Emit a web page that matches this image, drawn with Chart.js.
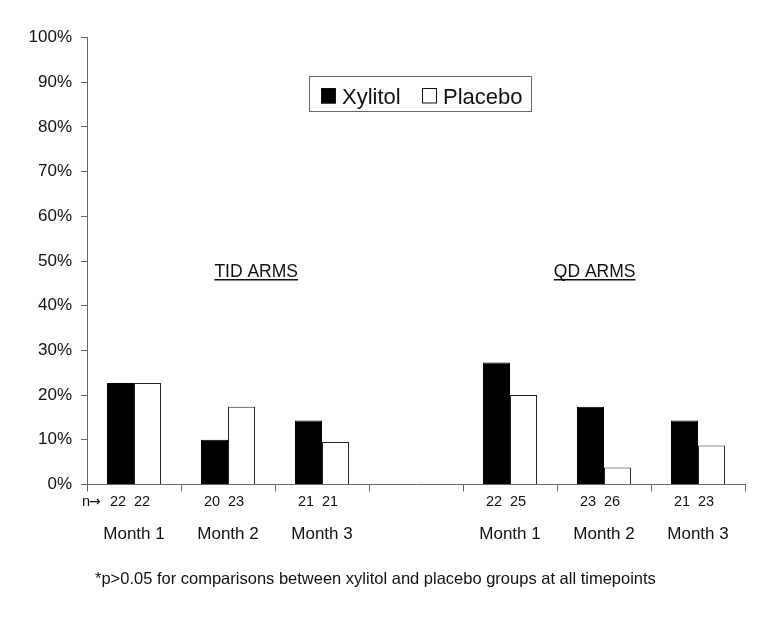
<!DOCTYPE html>
<html>
<head>
<meta charset="utf-8">
<script src="https://cdn.jsdelivr.net/npm/chart.js@4/dist/chart.umd.min.js"></script>
<style>
  html, body { margin: 0; padding: 0; background: #fff; }
  #wrap { width: 778px; height: 623px; }
</style>
</head>
<body>
<div id="wrap"><canvas id="grafico" width="778" height="623"></canvas></div>
<script>
// categorias (indice 3 = espaco entre os bracos)
const labelMeses = ['Month 1', 'Month 2', 'Month 3', '', 'Month 1', 'Month 2', 'Month 3'];
const dataXylitol = [22.7, 10.0, 14.3, null, 27.3, 17.4, 14.3];
const dataPlacebo = [22.7, 17.4, 9.5, null, 20.0, 3.8, 8.7];
// n por barra
const nXylitol = [22, 20, 21, null, 22, 23, 21];
const nPlacebo = [22, 23, 21, null, 25, 26, 23];
const yTicks = [0, 10, 20, 30, 40, 50, 60, 70, 80, 90, 100];

const fonte = 'Liberation Sans, Arial, sans-serif';
const corEixo = '#666';

// textos extras: legenda com borda, rotulos dos bracos, n, nota
const extras = {
    id: 'extras',
    afterDraw(chart) {
        const ctx = chart.ctx;
        const x = chart.scales.x;
        const y = chart.scales.y;
        ctx.save();
        ctx.fillStyle = '#111';
        ctx.textBaseline = 'alphabetic';

        // n abaixo das barras
        ctx.font = '14.5px ' + fonte;
        ctx.textAlign = 'center';
        for (let i = 0; i < labelMeses.length; i++) {
            if (nXylitol[i] == null) continue;
            const c = x.getPixelForValue(i) - 4;
            ctx.fillText(String(nXylitol[i]), c - 12, 506);
            ctx.fillText(String(nPlacebo[i]), c + 12, 506);
        }
        ctx.textAlign = 'left';
        ctx.fillText('n', 82, 506);
        ctx.font = '14px DejaVu Sans, sans-serif';
        ctx.fillText('\u2192', 89, 506);

        // rotulos dos bracos
        ctx.font = '17.5px ' + fonte;
        ctx.textAlign = 'center';
        ctx.strokeStyle = '#111';
        ctx.lineWidth = 1.5;
        const bracos = [['TID ARMS', 1.3], ['QD ARMS', 4.9]];
        const yb = y.getPixelForValue(46.5) + 0.5;
        bracos.forEach(b => {
            const cx = x.getPixelForValue(b[1]);
            ctx.fillText(b[0], cx, yb);
            const w = ctx.measureText(b[0]).width;
            ctx.beginPath();
            ctx.moveTo(cx - w / 2, yb + 2.5);
            ctx.lineTo(cx + w / 2, yb + 2.5);
            ctx.stroke();
        });

        // legenda
        ctx.fillStyle = '#fff';
        ctx.fillRect(309.5, 76.5, 222, 35);
        ctx.strokeStyle = corEixo;
        ctx.lineWidth = 1;
        ctx.strokeRect(309.5, 76.5, 222, 35);
        ctx.font = '22px ' + fonte;
        ctx.textAlign = 'left';
        const ds = chart.data.datasets;
        const itens = [[321, 342], [422, 443]];
        ds.forEach((d, k) => {
            ctx.fillStyle = d.backgroundColor;
            ctx.fillRect(itens[k][0], 88.5, 15, 15);
            ctx.strokeStyle = '#111';
            ctx.strokeRect(itens[k][0] + 0.5, 88.5, 14, 14.5);
            ctx.fillStyle = '#111';
            ctx.fillText(d.label, itens[k][1], 104);
        });

        // nota de rodape
        ctx.font = '16.5px ' + fonte;
        ctx.fillText('*p>0.05 for comparisons between xylitol and placebo groups at all timepoints', 95, 584);
        ctx.restore();
    }
};

const ctx = document.getElementById('grafico').getContext('2d');
const grafico = new Chart(ctx, {
    type: 'bar',
    data: {
        labels: labelMeses,
        datasets: [{
            label: 'Xylitol',
            data: dataXylitol,
            backgroundColor: '#000',
            borderColor: '#000',
            borderWidth: 1
        }, {
            label: 'Placebo',
            data: dataPlacebo,
            backgroundColor: '#fff',
            borderColor: '#222',
            borderWidth: 1
        }]
    },
    options: {
        responsive: false,
        animation: false,
        devicePixelRatio: 1,
        layout: { padding: { top: 37.5, right: 33, left: 0, bottom: 0 } },
        datasets: { bar: { categoryPercentage: 0.575, barPercentage: 1.0 } },
        plugins: {
            legend: { display: false },
            tooltip: { enabled: false }
        },
        scales: {
            x: {
                afterFit: s => { s.height = 138.5; },
                grid: { display: true, offset: true, drawOnChartArea: false, tickLength: 7, color: corEixo },
                border: { display: true, color: corEixo, width: 1 },
                ticks: {
                    color: '#111',
                    font: { family: fonte, size: 17 },
                    padding: 33,
                    maxRotation: 0,
                    autoSkip: false
                }
            },
            y: {
                min: 0,
                max: 100,
                afterFit: s => { s.width = 87; },
                afterBuildTicks: s => { s.ticks = yTicks.map(v => ({ value: v })); },
                grid: { display: true, drawOnChartArea: false, tickLength: 6, color: corEixo },
                border: { display: true, color: corEixo, width: 1 },
                ticks: {
                    color: '#111',
                    font: { family: fonte, size: 17 },
                    padding: 9,
                    callback: v => v + '%'
                }
            }
        }
    },
    plugins: [extras]
});
</script>
</body>
</html>
